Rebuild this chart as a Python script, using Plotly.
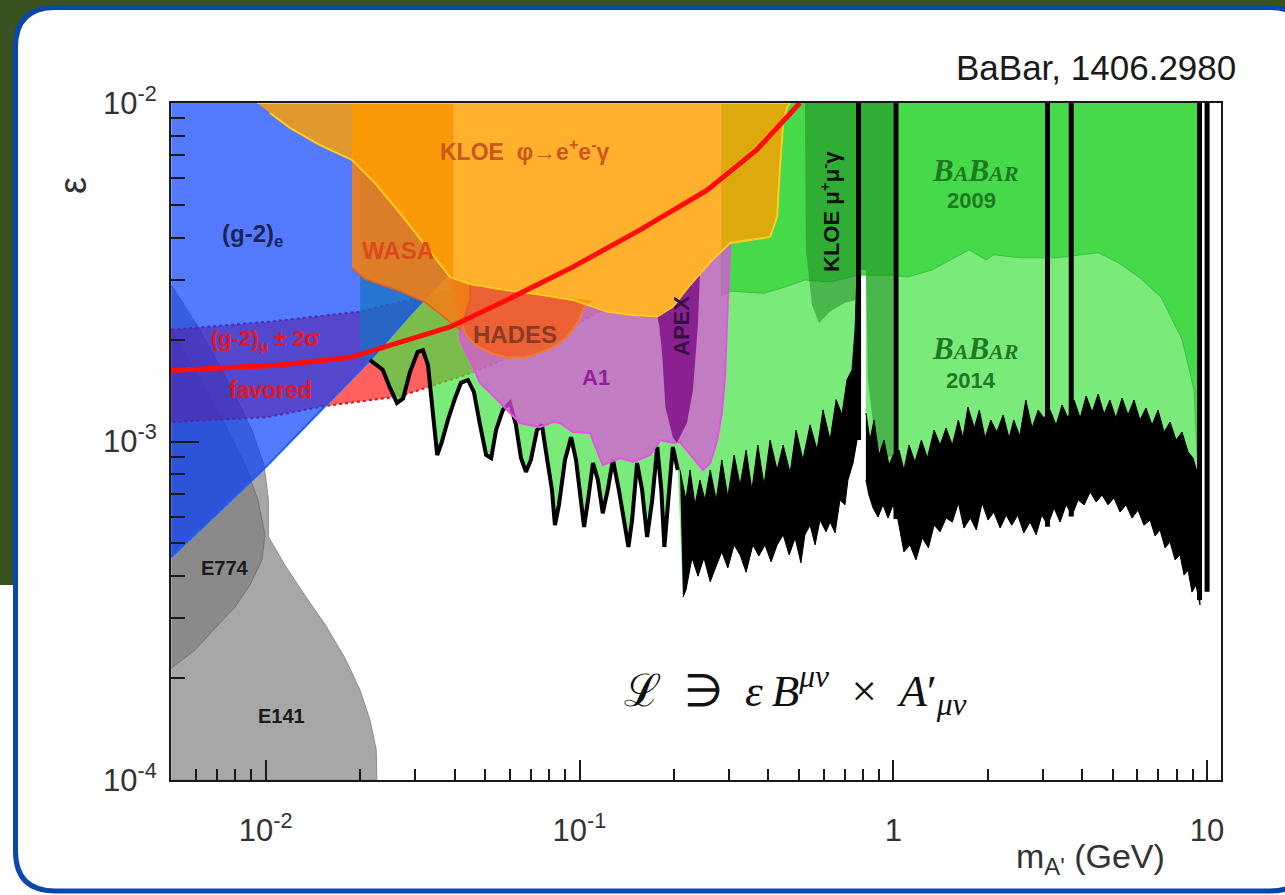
import plotly.graph_objects as go

# ---------------- data (mass in GeV, epsilon) ----------------
e141_m = [0.005, 0.00617, 0.00769, 0.00904, 0.00988, 0.0102, 0.0102, 0.0115, 0.0133, 0.0155, 0.0179, 0.0200, 0.0215, 0.0225, 0.0226, 0.005]
e141_eps = [2.90e-3, 2.14e-3, 1.47e-3, 1.08e-3, 8.53e-4, 6.72e-4, 5.23e-4, 4.32e-4, 3.52e-4, 2.87e-4, 2.29e-4, 1.84e-4, 1.50e-4, 1.23e-4, 1.0e-4, 1.0e-4]

e774_m = [0.005, 0.00617, 0.00742, 0.00859, 0.00945, 0.00995, 0.00973, 0.00891, 0.00798, 0.0069, 0.00595, 0.005]
e774_eps = [2.14e-3, 1.52e-3, 1.12e-3, 8.53e-4, 6.72e-4, 5.30e-4, 4.47e-4, 3.77e-4, 3.24e-4, 2.81e-4, 2.42e-4, 2.14e-4]

g2mu_up_m = [0.005, 0.0103, 0.020, 0.0387, 0.0646, 0.100, 0.156, 0.242, 0.376]
g2mu_up_eps = [2.14e-3, 2.26e-3, 2.42e-3, 2.80e-3, 3.39e-3, 4.08e-3, 5.17e-3, 6.79e-3, 1.0e-2]
g2mu_lo_m = [0.728, 0.436, 0.280, 0.181, 0.116, 0.0748, 0.0458, 0.0268, 0.0152, 0.0101, 0.005]
g2mu_lo_eps = [1.0e-2, 6.34e-3, 4.22e-3, 3.10e-3, 2.42e-3, 1.93e-3, 1.60e-3, 1.36e-3, 1.27e-3, 1.18e-3, 1.14e-3]

g2mu_curve_m = [0.005, 0.00715, 0.0109, 0.01856, 0.0268, 0.0387, 0.0587, 0.0954, 0.156, 0.255, 0.367, 0.459, 0.504]
g2mu_curve_eps = [1.62e-3, 1.65e-3, 1.68e-3, 1.77e-3, 1.96e-3, 2.18e-3, 2.62e-3, 3.28e-3, 4.22e-3, 5.53e-3, 7.27e-3, 9.10e-3, 1.0e-2]

g2e_m = [0.005, 0.0393, 0.0393, 0.0294, 0.0215, 0.0101, 0.005]
g2e_eps = [1.0e-2, 1.0e-2, 3.21e-3, 2.42e-3, 1.74e-3, 8.47e-4, 4.56e-4]

kloe_m = [0.00938, 0.469, 0.459, 0.4457, 0.4326, 0.4263, 0.405, 0.349, 0.302, 0.261, 0.225, 0.1983, 0.1769, 0.145,
          0.1221, 0.0954, 0.0748, 0.0587, 0.0448, 0.0387, 0.0322, 0.0268, 0.0223, 0.0200, 0.01883, 0.01489, 0.01195, 0.01032]
kloe_eps = [1.0e-2, 1.0e-2, 9.73e-3, 8.73e-3, 5.92e-3, 4.61e-3, 4.02e-3, 3.94e-3, 3.86e-3, 3.39e-3, 2.90e-3, 2.50e-3, 2.34e-3, 2.37e-3,
            2.42e-3, 2.62e-3, 2.72e-3, 2.80e-3, 2.92e-3, 3.06e-3, 3.81e-3, 4.73e-3, 5.80e-3, 6.43e-3, 6.79e-3, 7.51e-3, 8.44e-3, 9.35e-3]

wasa_m = [0.01883, 0.0393, 0.0393, 0.0448, 0.0448, 0.0416, 0.0372, 0.0322, 0.0268, 0.0207, 0.01883]
wasa_eps = [1.0e-2, 1.0e-2, 3.05e-3, 2.92e-3, 2.62e-3, 2.14e-3, 2.32e-3, 2.58e-3, 2.78e-3, 3.02e-3, 3.26e-3]

# HADES lower contour (its upper part lies under the KLOE region)
hades_m = [0.0387, 0.0401, 0.0416, 0.0435, 0.0465, 0.0519, 0.0587, 0.0670, 0.0748, 0.0835, 0.0913, 0.0989, 0.1042, 0.108]
hades_eps = [3.06e-3, 2.62e-3, 2.29e-3, 2.07e-3, 1.93e-3, 1.83e-3, 1.77e-3, 1.77e-3, 1.83e-3, 1.91e-3, 2.04e-3, 2.26e-3, 2.53e-3, 2.60e-3]

# A1 lower contour, right to left
a1_m = [0.302, 0.2969, 0.2905, 0.2841, 0.2748, 0.261, 0.2474, 0.230, 0.209, 0.1983, 0.181, 0.168, 0.1482, 0.135, 0.1186,
        0.108, 0.0954, 0.0867, 0.0823, 0.0748, 0.0646, 0.0546, 0.0482, 0.0458, 0.0432, 0.0416, 0.0416]
a1_eps = [3.86e-3, 2.62e-3, 1.52e-3, 1.214e-3, 1.01e-3, 8.64e-4, 8.24e-4, 8.94e-4, 9.96e-4, 9.90e-4, 1.01e-3, 9.12e-4, 8.70e-4,
          8.94e-4, 8.52e-4, 1.059e-3, 1.066e-3, 1.134e-3, 1.141e-3, 1.103e-3, 1.134e-3, 1.33e-3, 1.49e-3, 1.66e-3, 1.86e-3,
          2.00e-3, 2.80e-3]

apex_m = [0.1769, 0.1983, 0.225, 0.242, 0.2386, 0.230, 0.220, 0.2042, 0.1983, 0.1878, 0.1837, 0.1795]
apex_eps = [2.34e-3, 2.50e-3, 2.90e-3, 3.15e-3, 2.24e-3, 1.42e-3, 1.134e-3, 9.90e-4, 1.031e-3, 1.264e-3, 1.776e-3, 2.20e-3]

babar09_m = [0.2841, 0.2841, 0.3042, 0.3872, 0.4523, 0.5228, 0.629, 0.772, 0.818, 0.998, 1.105, 1.329, 1.741, 1.975, 2.09,
             2.53, 3.327, 4.496, 5.234, 6.11, 7.132, 8.321, 9.083, 9.353, 9.353]
babar09_eps = [1.0e-2, 2.69e-3, 2.78e-3, 2.74e-3, 2.86e-3, 3.00e-3, 2.96e-3, 3.10e-3, 3.10e-3, 3.10e-3, 3.06e-3, 3.21e-3, 3.68e-3, 3.44e-3, 3.56e-3,
               3.49e-3, 3.49e-3, 3.61e-3, 3.37e-3, 3.04e-3, 2.67e-3, 2.00e-3, 1.42e-3, 8.07e-4, 1.0e-2]

kloe_mumu_m = [0.5228, 0.5267, 0.551, 0.5797, 0.629, 0.7013, 0.7608, 0.772, 0.818, 0.8303, 0.8745, 0.9409, 0.998, 0.998]
kloe_mumu_eps = [1.0e-2, 3.68e-3, 2.53e-3, 2.24e-3, 2.42e-3, 2.57e-3, 2.62e-3, 3.21e-3, 3.21e-3, 1.52e-3, 1.01e-3, 8.82e-4, 9.12e-4, 1.0e-2]

# BaBar 2014 limit: single line at low mass
babar14_left_m = [0.0215, 0.0236, 0.0249, 0.0262, 0.0274, 0.0288, 0.0305, 0.0317, 0.0329, 0.0339, 0.0352, 0.0364, 0.0381, 0.0401,
                  0.0419, 0.0441, 0.0461, 0.0482, 0.0504, 0.0523, 0.0542, 0.0570, 0.0600, 0.0627, 0.0651, 0.0675, 0.0700, 0.0732,
                  0.0759, 0.0776, 0.0817, 0.0835, 0.0860, 0.0899, 0.0940, 0.0975, 0.1004, 0.1034, 0.1065, 0.1104, 0.1145, 0.1186,
                  0.1230, 0.1278, 0.1335, 0.1390, 0.1432, 0.1471, 0.1526, 0.1583, 0.1642, 0.1705, 0.1769, 0.1823, 0.1864, 0.1919,
                  0.1983, 0.2057]
babar14_left_eps = [1.74e-3, 1.63e-3, 1.44e-3, 1.30e-3, 1.34e-3, 1.60e-3, 1.84e-3, 1.86e-3, 1.68e-3, 1.24e-3, 9.12e-4, 9.96e-4,
                    1.16e-3, 1.34e-3, 1.49e-3, 1.52e-3, 1.40e-3, 1.12e-3, 9.12e-4, 8.94e-4, 1.08e-3, 1.24e-3, 1.30e-3, 1.12e-3,
                    8.94e-4, 8.13e-4, 8.82e-4, 1.08e-3, 1.12e-3, 9.76e-4, 7.19e-4, 5.66e-4, 6.50e-4, 8.82e-4, 1.03e-3, 8.82e-4,
                    7.19e-4, 5.59e-4, 6.72e-4, 8.64e-4, 7.69e-4, 6.14e-4, 7.19e-4, 8.82e-4, 7.19e-4, 5.86e-4, 4.88e-4, 5.86e-4,
                    8.64e-4, 7.19e-4, 5.22e-4, 6.72e-4, 9.63e-4, 7.19e-4, 4.88e-4, 6.72e-4, 9.63e-4, 8.24e-4]

# BaBar 2014 limit: noisy band, 0.21 - 0.77 GeV (upper edge L->R, lower edge R->L)
band_mid_up_m = [0.209, 0.2184, 0.225, 0.2334, 0.242, 0.251, 0.261, 0.2727, 0.2841, 0.2969, 0.311, 0.325, 0.3396, 0.3542, 0.3701,
                 0.3872, 0.405, 0.4263, 0.4457, 0.469, 0.4901, 0.5152, 0.543, 0.5716, 0.597, 0.629, 0.6573, 0.686, 0.7116, 0.7388,
                 0.7552, 0.7664]
band_mid_up_eps = [8.24e-4, 6.72e-4, 8.24e-4, 6.50e-4, 7.69e-4, 6.72e-4, 8.24e-4, 6.72e-4, 8.82e-4, 6.86e-4, 9.12e-4, 7.43e-4,
                   9.44e-4, 7.19e-4, 9.76e-4, 7.43e-4, 1.01e-3, 8.24e-4, 9.76e-4, 8.07e-4, 1.08e-3, 8.82e-4, 1.12e-3, 9.44e-4,
                   1.24e-3, 1.01e-3, 1.33e-3, 1.20e-3, 1.52e-3, 1.63e-3, 2.14e-3, 3.21e-3]
band_mid_lo_m = [0.7664, 0.7442, 0.7169, 0.7013, 0.676, 0.6525, 0.629, 0.6103, 0.584, 0.5633, 0.543, 0.5228, 0.5077, 0.4865,
                 0.4658, 0.4457, 0.4263, 0.408, 0.390, 0.3728, 0.3568, 0.3396, 0.325, 0.311, 0.2969, 0.2841, 0.2727, 0.261,
                 0.2492, 0.2386, 0.2283, 0.2184, 0.2137]
band_mid_lo_eps = [1.01e-3, 8.64e-4, 7.69e-4, 6.50e-4, 6.72e-4, 5.37e-4, 5.78e-4, 5.41e-4, 5.86e-4, 4.95e-4, 5.66e-4, 5.30e-4,
                   4.38e-4, 5.19e-4, 4.62e-4, 5.30e-4, 4.95e-4, 4.41e-4, 4.95e-4, 4.59e-4, 4.95e-4, 4.11e-4, 4.62e-4, 4.95e-4,
                   4.23e-4, 4.72e-4, 4.29e-4, 3.85e-4, 4.53e-4, 4.00e-4, 4.53e-4, 3.64e-4, 3.47e-4]

# BaBar 2014 limit: noisy band, 0.82 - 9.5 GeV
band_hi_up_m = [0.818, 0.843, 0.868, 0.9005, 0.934, 0.969, 0.998, 1.043, 1.081, 1.122, 1.172, 1.229, 1.284, 1.349, 1.41, 1.473,
                1.542, 1.612, 1.666, 1.729, 1.812, 1.880, 1.961, 2.045, 2.137, 2.239, 2.339, 2.420, 2.53, 2.644, 2.770, 2.895,
                3.017, 3.16, 3.302, 3.450, 3.605, 3.769, 3.94, 4.117, 4.303, 4.496, 4.696, 4.90, 5.121, 5.358, 5.599, 5.849,
                6.11, 6.385, 6.677, 6.978, 7.291, 7.62, 7.963, 8.321, 8.696, 9.016, 9.353]
band_hi_up_eps = [1.214e-3, 1.01e-3, 1.157e-3, 9.12e-4, 1.01e-3, 8.52e-4, 9.12e-4, 9.44e-4, 8.24e-4, 9.76e-4, 8.70e-4, 1.01e-3,
                  8.94e-4, 1.081e-3, 9.76e-4, 1.096e-3, 9.76e-4, 1.157e-3, 1.024e-3, 1.264e-3, 1.096e-3, 1.239e-3, 1.024e-3,
                  1.157e-3, 1.066e-3, 1.198e-3, 1.024e-3, 1.157e-3, 1.038e-3, 1.326e-3, 1.096e-3, 1.239e-3, 1.173e-3, 1.239e-3,
                  1.118e-3, 1.282e-3, 1.173e-3, 1.326e-3, 1.173e-3, 1.362e-3, 1.222e-3, 1.381e-3, 1.206e-3, 1.326e-3, 1.173e-3,
                  1.344e-3, 1.198e-3, 1.326e-3, 1.157e-3, 1.256e-3, 1.118e-3, 1.239e-3, 1.066e-3, 1.141e-3, 1.01e-3, 1.066e-3,
                  9.31e-4, 8.94e-4, 7.96e-4]
band_hi_lo_m = [9.49, 9.217, 8.950, 8.696, 8.444, 8.20, 7.905, 7.62, 7.345, 7.08, 6.826, 6.58, 6.292, 6.023, 5.764, 5.518, 5.28,
                5.046, 4.836, 4.627, 4.431, 4.24, 4.057, 3.881, 3.714, 3.553, 3.40, 3.254, 3.107, 2.973, 2.853, 2.73, 2.605,
                2.492, 2.385, 2.289, 2.19, 2.090, 2.004, 1.918, 1.839, 1.76, 1.679, 1.612, 1.542, 1.473, 1.41, 1.349, 1.294,
                1.238, 1.181, 1.13, 1.081, 1.035, 0.998, 0.962, 0.927, 0.894, 0.862, 0.836, 0.818]
band_hi_lo_eps = [3.29e-4, 3.77e-4, 3.59e-4, 4.17e-4, 4.03e-4, 4.62e-4, 4.47e-4, 5.05e-4, 4.85e-4, 5.48e-4, 5.26e-4, 5.86e-4,
                  5.66e-4, 6.27e-4, 5.94e-4, 6.50e-4, 6.19e-4, 6.81e-4, 6.50e-4, 6.95e-4, 6.63e-4, 7.09e-4, 6.50e-4, 6.72e-4,
                  6.06e-4, 6.50e-4, 5.78e-4, 6.36e-4, 5.66e-4, 6.06e-4, 5.30e-4, 5.78e-4, 5.37e-4, 6.06e-4, 5.66e-4, 6.06e-4,
                  5.55e-4, 6.19e-4, 5.86e-4, 6.58e-4, 5.48e-4, 5.94e-4, 5.55e-4, 6.58e-4, 5.78e-4, 5.94e-4, 5.41e-4, 5.66e-4,
                  4.85e-4, 5.19e-4, 4.47e-4, 4.95e-4, 4.72e-4, 5.86e-4, 6.50e-4, 5.94e-4, 6.50e-4, 5.98e-4, 6.36e-4, 6.95e-4,
                  7.69e-4]

# resonance vetoes (omega, phi, J/psi, psi(2S), Upsilon)
veto_m = [0.775, 1.02, 3.10, 3.69, 9.46, 10.0]
veto_eps_low = [1.01e-3, 5.9e-4, 5.6e-4, 6.0e-4, 3.4e-4, 3.6e-4]

x_tickvals = [0.01, 0.1, 1, 10]
x_ticktext = ['10<sup>-2</sup>', '10<sup>-1</sup>', '1', '10']
y_tickvals = [1e-4, 1e-3, 1e-2]
y_ticktext = ['10<sup>-4</sup>', '10<sup>-3</sup>', '10<sup>-2</sup>']

# ---------------- layout geometry (pixels) ----------------
W, H = 1285, 895
PL, PR, PT, PB = 171, 1221, 103, 780
EPS_TOP = 1.0e-2


def paper(xp, yp):
    return (xp - PL) / (PR - PL), (PB - yp) / (PB - PT)


def rr_path(x0, y0, x1, y1, r):
    def p(x, y):
        a, b = paper(x, y)
        return f"{a:.5f},{b:.5f}"
    return ("M " + p(x0 + r, y0) + " L " + p(x1 - r, y0) + " Q " + p(x1, y0) + " " + p(x1, y0 + r)
            + " L " + p(x1, y1 - r) + " Q " + p(x1, y1) + " " + p(x1 - r, y1)
            + " L " + p(x0 + r, y1) + " Q " + p(x0, y1) + " " + p(x0, y1 - r)
            + " L " + p(x0, y0 + r) + " Q " + p(x0, y0) + " " + p(x0 + r, y0) + " Z")


fig = go.Figure()


def region(m, eps, fill, line_color=None, line_width=0, dash=None):
    fig.add_trace(go.Scatter(
        x=m, y=eps, mode='lines', fill='toself', fillcolor=fill,
        line=dict(color=line_color or fill, width=line_width, dash=dash),
        hoverinfo='skip', showlegend=False))


def curve(m, eps, color, width, dash=None):
    fig.add_trace(go.Scatter(x=m, y=eps, mode='lines', line=dict(color=color, width=width, dash=dash),
                             hoverinfo='skip', showlegend=False))


# KLOE lower contour pieces (index ranges into kloe_m / kloe_eps)
K_LO_L2R = slice(23, 0, -1)     # from m=0.020 to m=0.469
K_HADES = slice(15, 20)         # m=0.0954 -> 0.0387
K_A1 = slice(18, 7, -1)         # m=0.0448 -> 0.302

# gray beam dump regions
region(e141_m, e141_eps, '#a7a7a7', '#8c8c8c', 1)
region(e774_m, e774_eps, 'rgba(0,0,0,0.17)', 'rgba(90,90,90,0.6)', 1)

# (g-2)_mu favored band: visible part below the KLOE contour
band_m = g2mu_up_m[:4] + kloe_m[18:13:-1] + g2mu_lo_m[4:]
band_eps = g2mu_up_eps[:4] + kloe_eps[18:13:-1] + g2mu_lo_eps[4:]
region(band_m, band_eps, 'rgba(255,0,0,0.62)', 'rgba(225,0,0,0.9)', 2, 'dot')

# BaBar 2014 excluded region (light green), kept below the KLOE contour
green_left_m = kloe_m[K_LO_L2R] + [band_mid_up_m[-1]] + band_mid_lo_m + babar14_left_m[::-1] + [0.020]
green_left_eps = kloe_eps[K_LO_L2R] + [EPS_TOP] + band_mid_lo_eps + babar14_left_eps[::-1] + [1.76e-3]
region(green_left_m, green_left_eps, 'rgba(68,227,68,0.71)')
green_right_m = [band_hi_up_m[0], band_hi_up_m[-1]] + band_hi_lo_m
green_right_eps = [EPS_TOP, EPS_TOP] + band_hi_lo_eps
region(green_right_m, green_right_eps, 'rgba(68,227,68,0.71)')

# (g-2)_e region (blue)
region(g2e_m, g2e_eps, 'rgba(0,58,255,0.67)')
curve(g2e_m[2:], g2e_eps[2:], '#1f5cff', 2)

# BaBar 2009 (dark green)
region(babar09_m, babar09_eps, '#46d94a', 'rgba(40,170,40,0.6)', 1)
# KLOE mu mu gamma
region(kloe_mumu_m, kloe_mumu_eps, 'rgba(25,130,30,0.5)')

# BaBar 2014 limit curve (black)
curve(babar14_left_m, babar14_left_eps, 'black', 4)
region(band_mid_up_m + band_mid_lo_m, band_mid_up_eps + band_mid_lo_eps, 'black', 'black', 1)
region(band_hi_up_m + band_hi_lo_m, band_hi_up_eps + band_hi_lo_eps, 'black', 'black', 1)
for vm, ve in zip(veto_m, veto_eps_low):
    curve([vm, vm], [ve, EPS_TOP], 'black', 5)

# A1, APEX, HADES, WASA, KLOE
region(a1_m + kloe_m[K_A1], a1_eps + kloe_eps[K_A1], 'rgba(222,80,222,0.72)', '#e84fe8', 2)
region(apex_m, apex_eps, 'rgba(115,0,125,0.72)')
region(hades_m + kloe_m[K_HADES], hades_eps + kloe_eps[K_HADES], 'rgba(240,95,35,0.88)', '#f27a2a', 2)
region(wasa_m, wasa_eps, 'rgba(240,128,22,0.9)', '#e0601a', 1.5)
region(kloe_m, kloe_eps, 'rgba(255,160,0,0.82)', '#ffcc22', 2)

# (g-2)_mu central curve
curve(g2mu_curve_m, g2mu_curve_eps, '#ff0d0d', 5)

# ---------------- annotations ----------------
anns = []


def ann(text, xp, yp, size, color, family='Liberation Sans', angle=0, xanchor='center'):
    x, y = paper(xp, yp)
    anns.append(dict(text=text, x=x, y=y, xref='paper', yref='paper', showarrow=False,
                     font=dict(size=size, color=color, family=family), textangle=angle,
                     xanchor=xanchor, yanchor='middle'))


ann('<b>(g-2)<sub>e</sub></b>', 252, 236, 24, '#1b2456')
ann('<b>WASA</b>', 398, 251, 24, '#dc4a1a')
ann('<b>KLOE  φ→e<sup>+</sup>e<sup>-</sup>γ</b>', 524, 150, 23, '#c9581a')
ann('<b>HADES</b>', 515, 334, 24, '#8a3b22')
ann('<b>A1</b>', 596, 377, 22, '#8e1f9c')
ann('<b>APEX</b>', 681, 326, 22, '#3a0d44', angle=-90)
ann('<b>KLOE μ<sup>+</sup>μ<sup>-</sup>γ</b>', 830, 212, 22, '#111111', angle=-90)
babar = "<b><i>B<span style='font-size:22px'>A</span>B<span style='font-size:22px'>AR</span></i></b>"
ann(babar, 975, 170, 31, '#1e7a22', family='Liberation Serif')
ann('<b>2009</b>', 971, 200, 22, '#1e7a22')
ann(babar, 975, 348, 31, '#1e7a22', family='Liberation Serif')
ann('<b>2014</b>', 971, 380, 22, '#1e7a22')
ann('<b>(g-2)<sub>μ</sub> ± 2σ</b>', 265, 340, 22, '#e8141e')
ann('<b>favored</b>', 270, 390, 23, '#e8141e')
ann('<b>E774</b>', 225, 568, 20, '#1a1a1a')
ann('<b>E141</b>', 281, 716, 20, '#1a1a1a')
ann("ℒ\u2002∋\u2002<i>ε</i>\u2009<i>B</i><sup><i>μν</i></sup>\u2002×\u2002<i>A</i>′<sub><i>μν</i></sub>", 795, 690, 45, '#111111',
    family='Liberation Serif')
ann('BaBar, 1406.2980', 1238, 67, 35, '#1a1a1a', xanchor='right')
ann("m<sub>A'</sub> (GeV)", 1090, 858, 34, '#333333')
ann('ε', 73, 186, 38, '#333333', angle=-90)

# ---------------- shapes: slide background + card ----------------
g0 = paper(0, 0)
g1 = paper(W, 585)
shapes = [
    dict(type='rect', xref='paper', yref='paper', x0=g0[0], y0=g0[1], x1=g1[0], y1=g1[1],
         fillcolor='#3a521f', line=dict(width=0), layer='below'),
    dict(type='path', xref='paper', yref='paper', path=rr_path(15.5, 7.5, 1310, 891, 40),
         fillcolor='white', line=dict(color='#0b47aa', width=5), layer='below'),
]

minor_x = [k * d for d in (0.001, 0.01, 0.1, 1) for k in range(2, 10) if 0.005 < k * d < 11]
minor_y = [k * d for d in (1e-4, 1e-3) for k in range(2, 10)]

axis_font = dict(family='Liberation Sans', size=31, color='#333333')
fig.update_layout(
    width=W, height=H,
    margin=dict(l=PL, r=W - PR, t=PT, b=H - PB, pad=0),
    paper_bgcolor='white', plot_bgcolor='rgba(0,0,0,0)',
    showlegend=False, hovermode=False,
    annotations=anns, shapes=shapes,
    xaxis=dict(type='log', range=[-2.3018, 1.0443], showgrid=False, zeroline=False,
               showline=True, linecolor='#1a1a1a', linewidth=2, mirror=True,
               ticks='inside', ticklen=20, tickwidth=2, tickcolor='#1a1a1a',
               tickvals=x_tickvals, ticktext=x_ticktext, tickfont=axis_font, ticklabelstandoff=22,
               minor=dict(ticks='inside', ticklen=11, tickwidth=2, tickcolor='#1a1a1a',
                          tickvals=minor_x, showgrid=False)),
    yaxis=dict(type='log', range=[-4, -2], showgrid=False, zeroline=False,
               showline=True, linecolor='#1a1a1a', linewidth=2, mirror=True,
               ticks='inside', ticklen=28, tickwidth=2, tickcolor='#1a1a1a',
               tickvals=y_tickvals, ticktext=y_ticktext, tickfont=axis_font, ticklabelstandoff=6,
               minor=dict(ticks='inside', ticklen=14, tickwidth=2, tickcolor='#1a1a1a',
                          tickvals=minor_y, showgrid=False)),
)

fig.write_html("out.html", config={'displayModeBar': False})
